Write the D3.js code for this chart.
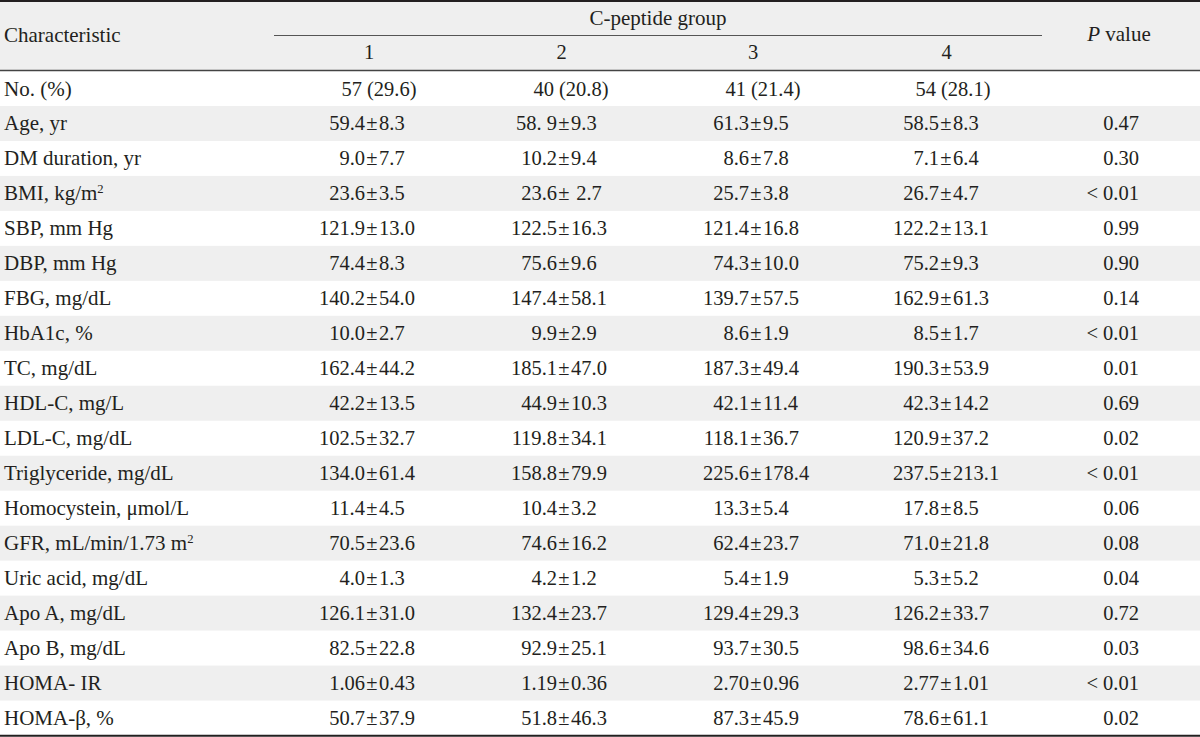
<!DOCTYPE html>
<html><head><meta charset="utf-8">
<script src="https://cdn.jsdelivr.net/npm/d3@7"></script>
<style>
html,body{margin:0;padding:0;background:#fff;}
svg text{font-family:"Liberation Serif","DejaVu Serif",serif;fill:#231f20;white-space:pre;}
</style></head>
<body><svg id="c" width="1200" height="737"></svg>
<script>
const characteristics = ["No. (%)","Age, yr","DM duration, yr","BMI, kg/m^2","SBP, mm Hg","DBP, mm Hg","FBG, mg/dL","HbA1c, %","TC, mg/dL","HDL-C, mg/L","LDL-C, mg/dL","Triglyceride, mg/dL","Homocystein, μmol/L","GFR, mL/min/1.73 m^2","Uric acid, mg/dL","Apo A, mg/dL","Apo B, mg/dL","HOMA- IR","HOMA-β, %"];
const groupLabels = ["1","2","3","4"];
const group1 = ["57 (29.6)","59.4 ± 8.3","9.0 ± 7.7","23.6 ± 3.5","121.9 ± 13.0","74.4 ± 8.3","140.2 ± 54.0","10.0 ± 2.7","162.4 ± 44.2","42.2 ± 13.5","102.5 ± 32.7","134.0 ± 61.4","11.4 ± 4.5","70.5 ± 23.6","4.0 ± 1.3","126.1 ± 31.0","82.5 ± 22.8","1.06 ± 0.43","50.7 ± 37.9"];
const group2 = ["40 (20.8)","58. 9 ± 9.3","10.2 ± 9.4","23.6 ±  2.7","122.5 ± 16.3","75.6 ± 9.6","147.4 ± 58.1","9.9 ± 2.9","185.1 ± 47.0","44.9 ± 10.3","119.8 ± 34.1","158.8 ± 79.9","10.4 ± 3.2","74.6 ± 16.2","4.2 ± 1.2","132.4 ± 23.7","92.9 ± 25.1","1.19 ± 0.36","51.8 ± 46.3"];
const group3 = ["41 (21.4)","61.3 ± 9.5","8.6 ± 7.8","25.7 ± 3.8","121.4 ± 16.8","74.3 ± 10.0","139.7 ± 57.5","8.6 ± 1.9","187.3 ± 49.4","42.1 ± 11.4","118.1 ± 36.7","225.6 ± 178.4","13.3 ± 5.4","62.4 ± 23.7","5.4 ± 1.9","129.4 ± 29.3","93.7 ± 30.5","2.70 ± 0.96","87.3 ± 45.9"];
const group4 = ["54 (28.1)","58.5 ± 8.3","7.1 ± 6.4","26.7 ± 4.7","122.2 ± 13.1","75.2 ± 9.3","162.9 ± 61.3","8.5 ± 1.7","190.3 ± 53.9","42.3 ± 14.2","120.9 ± 37.2","237.5 ± 213.1","17.8 ± 8.5","71.0 ± 21.8","5.3 ± 5.2","126.2 ± 33.7","98.6 ± 34.6","2.77 ± 1.01","78.6 ± 61.1"];
const pValues = ["","0.47","0.30","< 0.01","0.99","0.90","0.14","< 0.01","0.01","0.69","0.02","< 0.01","0.06","0.08","0.04","0.72","0.03","< 0.01","0.02"];

const groups = [group1, group2, group3, group4];
const W = 1200, FS = 20.5, LFS = 21;
const svg = d3.select("#c");
const gray = "#efefef";

// scales
const y = d3.scaleBand().domain(d3.range(characteristics.length)).range([71, 735.5]).padding(0);
const xCol = d3.scaleOrdinal().domain(groupLabels).range([372, 564, 756, 946]);
const xHead = d3.scaleOrdinal().domain(groupLabels).range([369, 561.5, 753, 946.5]);
const pRight = 1139;

// header background
svg.append("rect").attr("x",0).attr("y",0).attr("width",W).attr("height",70).attr("fill",gray);
// striped rows
svg.selectAll("rect.row").data(d3.range(characteristics.length).filter(i=>i%2===1)).join("rect")
  .attr("class","row").attr("x",0).attr("width",W).attr("y",i=>y(i)).attr("height",y.bandwidth()).attr("fill",gray);

// lines
svg.append("line").attr("x1",0).attr("x2",W).attr("y1",1).attr("y2",1).attr("stroke","#231f20").attr("stroke-width",2);
svg.append("line").attr("x1",0).attr("x2",W).attr("y1",70.5).attr("y2",70.5).attr("stroke","#444").attr("stroke-width",1.3);
svg.append("line").attr("x1",274).attr("x2",1042).attr("y1",35.5).attr("y2",35.5).attr("stroke","#555").attr("stroke-width",1);
svg.append("line").attr("x1",0).attr("x2",W).attr("y1",735.8).attr("y2",735.8).attr("stroke","#231f20").attr("stroke-width",2);

// header texts
svg.append("text").attr("x",4).attr("y",42).attr("font-size",LFS).text("Characteristic");
svg.append("text").attr("x",658).attr("y",25).attr("text-anchor","middle").attr("font-size",LFS).text("C-peptide group");
svg.selectAll("text.gl").data(groupLabels).join("text").attr("class","gl")
  .attr("x",d=>xHead(d)).attr("y",59).attr("text-anchor","middle").attr("font-size",FS).text(d=>d);
const pv = svg.append("text").attr("x",1119).attr("y",41).attr("text-anchor","middle").attr("font-size",LFS);
pv.append("tspan").attr("font-style","italic").text("P");
pv.append("tspan").text(" value");

// row labels
const base = i => y(i) + 24.5;
characteristics.forEach((c,i)=>{
  const t = svg.append("text").attr("x",4).attr("y",base(i)).attr("font-size",LFS);
  const parts = c.split("^");
  t.append("tspan").text(parts[0]);
  if (parts.length>1) t.append("tspan").attr("font-size",LFS*0.6).attr("dy",-7.5).text(parts[1]);
});

// values
groups.forEach((g,gi)=>{
  const pm = xCol(groupLabels[gi]);
  g.forEach((v,i)=>{
    if (v.indexOf("±")<0) {
      svg.append("text").attr("x",pm+7).attr("y",base(i)).attr("text-anchor","middle").attr("font-size",FS).text(v);
    } else {
      const [l,r] = v.split("±");
      svg.append("text").attr("x",pm-7).attr("y",base(i)).attr("text-anchor","end").attr("font-size",FS).text(l.trimEnd());
      svg.append("text").attr("x",pm).attr("y",base(i)).attr("text-anchor","middle").attr("font-size",FS).text("±");
      svg.append("text").attr("x",pm+7).attr("y",base(i)).attr("text-anchor","start").attr("font-size",FS).text(r.replace(/^ /,""));
    }
  });
});
// p values
svg.selectAll("text.pv").data(pValues).join("text").attr("class","pv")
  .attr("x",pRight).attr("y",(d,i)=>base(i)).attr("text-anchor","end").attr("font-size",FS).text(d=>d);
</script></body></html>
